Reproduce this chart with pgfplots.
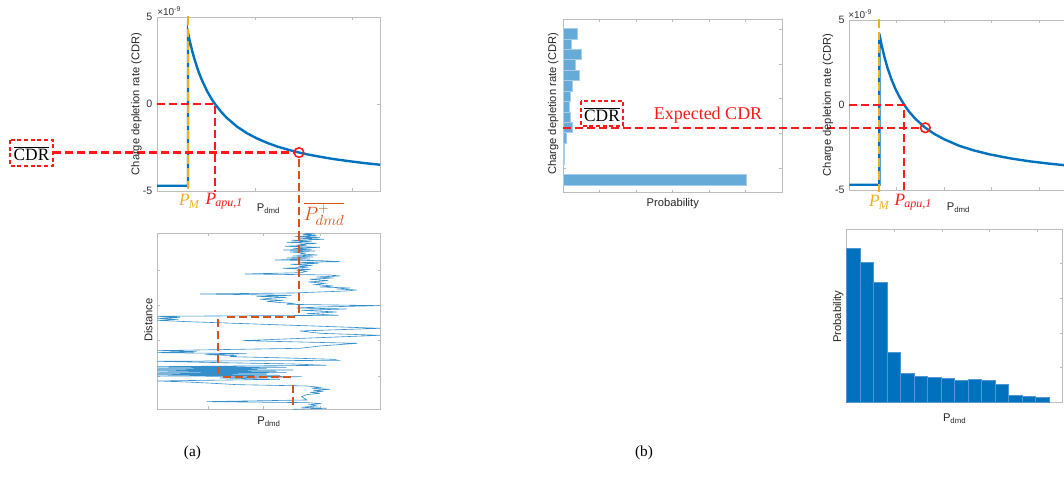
\documentclass[border=0pt]{standalone}
\usepackage{pgfplots}
\pgfplotsset{compat=1.18}
\usepackage{fontspec}
\setmainfont{Liberation Sans}
\newfontfamily\tnr{Liberation Serif}

\definecolor{mblue}{HTML}{0072BD}
\definecolor{myellow}{HTML}{EDB120}
\definecolor{morange}{HTML}{D95319}
\definecolor{mred}{HTML}{FF1A1A}
\definecolor{axgray}{HTML}{BDBDBD}
\definecolor{histlight}{RGB}{102,170,215}
\definecolor{histedge}{RGB}{170,205,230}
\definecolor{baredge}{RGB}{80,150,210}

\tikzset{
  cdrdash/.style={mred, line width=1.6pt, dash pattern=on 6pt off 3pt},
  pmdash/.style={myellow, line width=1.7pt, dash pattern=on 6.5pt off 3pt},
  dmddash/.style={morange, line width=1.6pt, dash pattern=on 6pt off 3pt},
}

\pgfplotsset{
  mlab/.style={
    scale only axis, clip=false, anchor=center,
    axis line style={axgray, line width=0.5pt},
    every tick/.style={axgray, line width=0.5pt},
    major tick length=2.3pt,
    tick align=inside,
    xticklabels={},
    ticklabel style={font=\fontsize{8}{8}\selectfont, text=black!80},
    label style={font=\fontsize{8.4}{9}\selectfont, text=black!85},
    /pgf/number format/assume math mode=true,
  },
}

\begin{document}
\begin{tikzpicture}
\path[use as bounding box] (0,0) rectangle ({1064*0.75pt},{-486*0.75pt});

% ---------- (a) top: CDR versus demand power ----------
\begin{axis}[mlab,
  at={({268.5*0.75pt},{-104*0.75pt})},
  width=167.25pt, height=130.5pt,
  xmin=0, xmax=223, ymin=-5, ymax=5,
  xtick={98,195}, ytick={-5,0,5}, yticklabels={-5,0,5},
  xlabel={P\textsubscript{dmd}},
  xlabel style={at={(axis description cs:0.5,-0.1)}, anchor=center},
  ylabel={Charge depletion rate (CDR)},
  ylabel style={at={(axis description cs:-0.092,0.5)}, anchor=center},
]
\addplot[mblue, line width=1.8pt] coordinates {
  (0,-4.70) (31,-4.70) (31,4.10) (33,3.56) (35,3.09) (37,2.67) (40,2.12)
  (42,1.79) (45,1.36) (50,0.75) (55,0.25) (58,0.00) (65,-0.51) (70,-0.81)
  (80,-1.30) (90,-1.68) (100,-1.98) (110,-2.23) (120,-2.44) (130,-2.61)
  (142,-2.79) (150,-2.89) (160,-3.00) (175,-3.15) (190,-3.27) (205,-3.38)
  (223,-3.49)};
\addplot[pmdash] coordinates {(31,5.05) (31,-5.05)};
\addplot[cdrdash] coordinates {(0,0) (58,0) (58,-5.05)};
\addplot[cdrdash] coordinates {(-104,-2.79) (137,-2.79)};
\addplot[mred, line width=1.2pt, only marks, mark=o, mark size=3.6pt] coordinates {(142,-2.79)};
\end{axis}

% ---------- (a) bottom: demand power along the route ----------
\begin{axis}[mlab,
  at={({269*0.75pt},{-321.3*0.75pt})},
  width=167.55pt, height=132pt,
  xmin=112, xmax=782, ymin=40, ymax=568, y dir=reverse,
  xtick={265,430,600}, ytick={150,257,362,470}, yticklabels={},
  xlabel={P\textsubscript{dmd}},
  xlabel style={at={(axis description cs:0.5,-0.072)}, anchor=center},
  ylabel={Distance},
  ylabel style={at={(axis description cs:-0.04,0.507)}, anchor=center},
]
\addplot[mblue!80!white, line width=0.45pt] coordinates {
  (555,40) (585,42) (548,44) (590,47) (525,50) (600,52) (540,55) (612,58)
  (515,61) (575,64) (500,67) (590,70) (540,73) (560,76) (495,79) (600,82)
  (520,85) (575,88) (490,90) (585,93) (510,96) (555,99) (540,102) (592,105)
  (518,108) (580,111) (500,114) (570,117) (465,120) (600,122) (660,125)
  (540,127) (595,130) (512,133) (578,136) (535,139) (565,142) (488,145)
  (572,148) (530,151) (560,154) (545,158) (375,162) (630,165) (660,168)
  (590,171) (640,174) (570,178) (625,182) (565,186) (615,190) (585,194)
  (640,198) (600,201) (690,204) (650,207) (710,210) (680,213) (600,216)
  (520,219) (240,222) (380,224) (515,226) (410,229) (500,232) (450,235)
  (420,238) (490,241) (440,244) (470,247) (520,250) (500,253) (780,257)
  (600,261) (530,264) (680,267) (545,271) (650,276) (560,281) (655,286)
  (112,289) (180,292) (112,295) (175,298) (112,301) (200,305) (780,325)
  (540,333) (600,340) (780,346) (368,362) (712,370) (600,378) (540,385)
  (112,392) (230,395) (112,398) (380,401) (255,404) (350,407) (330,410)
  (500,414) (640,418) (655,421) (112,424) (300,428) (520,432) (620,436)
  (112,440) (500,442) (112,444) (440,446) (112,448) (520,450) (112,452)
  (470,454) (112,456) (500,458) (112,460) (440,462) (112,464) (480,466)
  (112,468) (545,470) (300,474) (480,478) (112,483) (200,486) (280,490)
  (350,494) (560,498) (600,502) (575,505) (630,508) (580,511) (610,514)
  (570,517) (600,520) (560,524) (545,530) (560,540) (260,545) (560,548)
  (605,551) (570,554) (590,558) (545,562) (620,565) (520,568)};
\addplot[dmddash] coordinates {(538,40) (538,278)};
\addplot[dmddash] coordinates {(525,290) (312,290)};
\addplot[dmddash] coordinates {(293,296) (293,462)};
\addplot[dmddash] coordinates {(310,470) (525,470)};
\addplot[dmddash] coordinates {(520,494) (520,566)};
\end{axis}

% ---------- (b) left: distribution of CDR ----------
\begin{axis}[mlab,
  at={({672.8*0.75pt},{-106*0.75pt})},
  width=164.25pt, height=130.05pt,
  xmin=0, xmax=0.6, ymin=-5.4, ymax=4.575,
  xtick={0.1,0.2,0.3,0.4,0.5}, ytick={-4,-2,0,2,4}, yticklabels={},
  xlabel={Probability},
  xlabel style={at={(axis description cs:0.5,-0.065)}, anchor=center},
  ylabel={Charge depletion rate (CDR)},
  ylabel style={at={(axis description cs:-0.046,0.514)}, anchor=center},
]
\addplot[xbar, bar width=0.6, bar shift=0pt, fill=histlight, draw=histedge, line width=0.4pt]
  coordinates {
  (0.039,3.75) (0.022,3.15) (0.050,2.55) (0.033,1.95) (0.045,1.35)
  (0.024,0.75) (0.019,0.15) (0.015,-0.45) (0.019,-1.05) (0.025,-1.65)
  (0.008,-2.25) (0.003,-2.85) (0.003,-3.45) (0.502,-4.65)};
\end{axis}

% ---------- (b) right top: CDR versus demand power ----------
\begin{axis}[mlab,
  at={({960.8*0.75pt},{-105*0.75pt})},
  width=167.25pt, height=127.5pt,
  xmin=0, xmax=223, ymin=-5, ymax=5,
  xtick={47.5,95,142.5,190}, ytick={-5,0,5}, yticklabels={-5,0,5},
  xlabel={P\textsubscript{dmd}},
  xlabel style={at={(axis description cs:0.49,-0.106)}, anchor=center},
  ylabel={Charge depletion rate (CDR)},
  ylabel style={at={(axis description cs:-0.096,0.5)}, anchor=center},
]
\addplot[mblue, line width=1.8pt] coordinates {
  (0,-4.69) (30,-4.69) (30,4.20) (32,3.61) (35,2.85) (38,2.22) (42,1.53)
  (46,0.96) (50,0.49) (55,0.00) (60,-0.41) (66,-0.81) (76,-1.34) (85,-1.70)
  (95,-2.02) (110,-2.40) (125,-2.68) (140,-2.90) (160,-3.13) (180,-3.31)
  (200,-3.45) (215,-3.54) (223,-3.58)};
\addplot[pmdash] coordinates {(30,5.05) (30,-5.15)};
\addplot[cdrdash] coordinates {(0,0) (55,0) (55,-5.15)};
\addplot[cdrdash] coordinates {(-286,-1.34) (71,-1.34)};
\addplot[mred, line width=1.2pt, only marks, mark=o, mark size=3.6pt] coordinates {(76,-1.34)};
\end{axis}

% ---------- (b) right bottom: distribution of demand power ----------
\begin{axis}[mlab,
  at={({954.7*0.75pt},{-316*0.75pt})},
  width=162pt, height=130.05pt,
  xmin=0, xmax=216, ymin=0, ymax=0.2483,
  xtick={48,95.5,143,190.5}, ytick={0.05,0.1,0.15,0.2}, yticklabels={},
  xlabel={P\textsubscript{dmd}},
  xlabel style={at={(axis description cs:0.5,-0.09)}, anchor=center},
  ylabel={Probability},
  ylabel style={at={(axis description cs:-0.039,0.496)}, anchor=center},
]
\addplot[ybar, bar width=13.5, bar shift=0pt, fill=mblue, draw=baredge, line width=0.5pt]
  coordinates {
  (6.75,0.2211) (20.25,0.2006) (33.75,0.1724) (47.25,0.0721) (60.75,0.0420)
  (74.25,0.0382) (87.75,0.0358) (101.25,0.0344) (114.75,0.0320)
  (128.25,0.0334) (141.75,0.0315) (155.25,0.0258) (168.75,0.0110)
  (182.25,0.0091) (195.75,0.0076)};
\end{axis}

% ---------- annotations ----------
\begin{scope}[x=0.75pt, y=-0.75pt]
  % link from the operating point down to the demand trace
  \draw[dmddash] (299.3,159) -- (299.3,233.3);

  % average CDR boxes
  \draw[mred, line width=1.1pt, dash pattern=on 3pt off 2pt] (10,140) rectangle (53,166);
  \node at (31.5,153.5) {\tnr\fontsize{13}{13}\selectfont $\overline{\mbox{CDR}}$};
  \draw[mred, line width=1.1pt, dash pattern=on 3pt off 2pt] (581,101) rectangle (623,126);
  \node at (602,114.5) {\tnr\fontsize{13}{13}\selectfont $\overline{\mbox{CDR}}$};
  \node[text=mred] at (708,115) {\tnr\fontsize{13.5}{14}\selectfont Expected CDR};

  % scale factors
  \node[anchor=west, inner sep=0pt, text=black!80] at (157,11.5)
    {\fontsize{7.5}{8}\selectfont ×10\textsuperscript{-9}};
  \node[anchor=west, inner sep=0pt, text=black!80] at (848,14.5)
    {\fontsize{7.5}{8}\selectfont ×10\textsuperscript{-9}};

  % power markers
  \node[text=myellow] at (189,201)
    {\tnr\itshape\fontsize{13}{13}\selectfont P\kern-0.5pt\raisebox{-0.35ex}{\fontsize{9}{9}\selectfont M}};
  \node[text=mred] at (224,201)
    {\tnr\itshape\fontsize{13}{13}\selectfont P\kern-0.5pt\raisebox{-0.35ex}{\fontsize{9}{9}\selectfont apu,1}};
  \node[text=myellow] at (879,202)
    {\tnr\itshape\fontsize{13}{13}\selectfont P\kern-0.5pt\raisebox{-0.35ex}{\fontsize{9}{9}\selectfont M}};
  \node[text=mred] at (913,202)
    {\tnr\itshape\fontsize{13}{13}\selectfont P\kern-0.5pt\raisebox{-0.35ex}{\fontsize{9}{9}\selectfont apu,1}};
  \node[text=morange] at (324,214)
    {\fontsize{14}{14}\selectfont $\overline{P^{+}_{\mbox{\fontsize{11}{11}\selectfont$dmd$}}}$};

  % panel captions
  \node at (192.5,453) {\tnr\fontsize{11.5}{12}\selectfont (a)};
  \node at (644,453) {\tnr\fontsize{11.5}{12}\selectfont (b)};
\end{scope}
\end{tikzpicture}
\end{document}
